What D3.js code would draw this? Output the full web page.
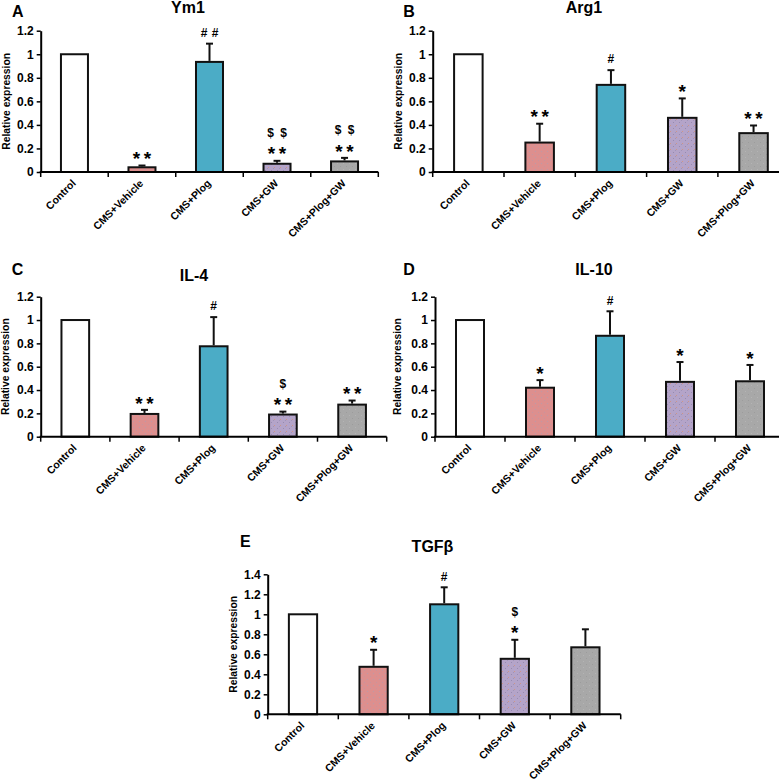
<!DOCTYPE html>
<html><head><meta charset="utf-8">
<script src="https://cdn.jsdelivr.net/npm/d3@7"></script>
<style>
body{margin:0;background:#fff}
svg{display:block}
text{font-family:"Liberation Sans",Arial,sans-serif;fill:#000}
</style>
</head><body>
<svg id="chart" width="779" height="784"></svg>
<script>
// ---------- data ----------
const categories = ["Control", "CMS+Vehicle", "CMS+Plog", "CMS+GW", "CMS+Plog+GW"];
const yTicks12 = [0, 0.2, 0.4, 0.6, 0.8, 1, 1.2];
const yTicks14 = [0, 0.2, 0.4, 0.6, 0.8, 1, 1.2, 1.4];

const ym1Values = [1, 0.04, 0.935, 0.07, 0.09];
const ym1Errors = [0, 0.015, 0.155, 0.025, 0.03];
const ym1Marks  = [[], ["* *"], ["# #"], ["* *", "$ $"], ["* *", "$ $"]];

const arg1Values = [1, 0.25, 0.74, 0.46, 0.33];
const arg1Errors = [0, 0.16, 0.125, 0.165, 0.065];
const arg1Marks  = [[], ["* *"], ["#"], ["*"], ["* *"]];

const il4Values = [1, 0.195, 0.775, 0.19, 0.275];
const il4Errors = [0, 0.035, 0.25, 0.025, 0.035];
const il4Marks  = [[], ["* *"], ["#"], ["* *", "$"], ["* *"]];

const il10Values = [1, 0.42, 0.865, 0.47, 0.475];
const il10Errors = [0, 0.065, 0.21, 0.17, 0.14];
const il10Marks  = [[], ["*"], ["#"], ["*"], ["*"]];

const tgfbValues = [1, 0.475, 1.10, 0.555, 0.67];
const tgfbErrors = [0, 0.17, 0.17, 0.19, 0.18];
const tgfbMarks  = [[], ["*"], ["#"], ["*", "$"], []];

// ---------- layout / style ----------
const barFills = ["#ffffff", "url(#pPink)", "#4bacc6", "url(#pLav)", "url(#pGray)"];

const panels = [
  {letter: "A", title: "Ym1",  values: ym1Values,  errors: ym1Errors,  marks: ym1Marks,  ticks: yTicks12,
   box: {l: 40.7, r: 378.3, t: 30.7, b: 172}, titleXY: [188, 13.3], letterXY: [12, 16.7], yLabelX: 6},
  {letter: "B", title: "Arg1", values: arg1Values, errors: arg1Errors, marks: arg1Marks, ticks: yTicks12,
   box: {l: 432.7, r: 789.2, t: 30.7, b: 172}, titleXY: [584, 13.3], letterXY: [403.3, 16.7], yLabelX: 398.5},
  {letter: "C", title: "IL-4", values: il4Values,  errors: il4Errors,  marks: il4Marks,  ticks: yTicks12,
   box: {l: 40.7, r: 386.7, t: 296.7, b: 436.7}, titleXY: [194, 280.7], letterXY: [11.7, 275], yLabelX: 5.5},
  {letter: "D", title: "IL-10", values: il10Values, errors: il10Errors, marks: il10Marks, ticks: yTicks12,
   box: {l: 435, r: 785, t: 296.7, b: 436.7}, titleXY: [594, 275], letterXY: [403.3, 275], yLabelX: 397.7},
  {letter: "E", title: "TGFβ", values: tgfbValues, errors: tgfbErrors, marks: tgfbMarks, ticks: yTicks14,
   box: {l: 267.7, r: 620.7, t: 574.3, b: 714.3}, titleXY: [432.5, 551.7], letterXY: [240, 546.7], yLabelX: 233.3}
];

const svg = d3.select("#chart");

// textured fills
const defs = svg.append("defs");
function dotPattern(id, base, dots) {
  const p = defs.append("pattern").attr("id", id).attr("patternUnits", "userSpaceOnUse")
    .attr("width", 6).attr("height", 6);
  p.append("rect").attr("width", 6).attr("height", 6).attr("fill", base);
  dots.forEach(d => p.append("rect").attr("x", d[0]).attr("y", d[1]).attr("width", 1).attr("height", 1)
    .attr("fill", d[2]).attr("opacity", 0.6));
}
dotPattern("pPink", "#dd8f8e", [[1, 1, "#a7a1b8"], [4, 4, "#b799a8"]]);
dotPattern("pLav", "#b4a4c9", [[1, 2, "#8479a0"], [4, 5, "#e08a5c"], [3, 0, "#9288ad"]]);
dotPattern("pGray", "#a8a8a8", [[1, 1, "#bcbcbc"], [4, 4, "#959595"]]);

// symbol glyph metrics: baseline shift (fraction of size), size, spacing between pairs
const symStyle = {
  "*": {k: 0.56, size: 19, gap: 11},
  "#": {k: 0.36, size: 12, gap: 11},
  "$": {k: 0.35, size: 12, gap: 13}
};

panels.forEach(P => {
  const g = svg.append("g");
  const B = P.box;
  const ymax = P.ticks[P.ticks.length - 1];
  const x = d3.scaleBand().domain(categories).range([B.l, B.r]).paddingInner(0.6).paddingOuter(0.3);
  const y = d3.scaleLinear().domain([0, ymax]).range([B.b, B.t]);

  // bars
  g.selectAll("rect.bar").data(categories).join("rect").attr("class", "bar")
    .attr("x", d => x(d)).attr("width", x.bandwidth())
    .attr("y", (d, i) => y(P.values[i])).attr("height", (d, i) => y(0) - y(P.values[i]))
    .attr("fill", (d, i) => barFills[i]).attr("stroke", "#111").attr("stroke-width", 2);

  // error bars (upper only)
  categories.forEach((c, i) => {
    const e = P.errors[i];
    if (!e) return;
    const cx = x(c) + x.bandwidth() / 2;
    const top = y(P.values[i] + e);
    g.append("line").attr("x1", cx).attr("x2", cx).attr("y1", y(P.values[i]) - 1).attr("y2", top)
      .attr("stroke", "#111").attr("stroke-width", 2);
    g.append("line").attr("x1", cx - 3.5).attr("x2", cx + 3.5).attr("y1", top).attr("y2", top)
      .attr("stroke", "#111").attr("stroke-width", 2);
    // significance marks
    P.marks[i].forEach((m, k) => {
      const centerY = top - 11 - k * 17;
      const parts = m.split(" ");
      const st = symStyle[parts[0]];
      parts.forEach((s, j) => {
        const dx = (j - (parts.length - 1) / 2) * st.gap;
        g.append("text").attr("x", cx + dx).attr("y", centerY + st.k * st.size)
          .attr("text-anchor", "middle").attr("font-weight", "bold")
          .attr("font-size", st.size).attr("fill", "#000").text(s);
      });
    });
  });

  // y axis
  const ya = g.append("g").attr("transform", `translate(${B.l},0)`)
    .call(d3.axisLeft(y).tickValues(P.ticks).tickFormat(d => d3.format("~g")(d))
      .tickSize(4).tickSizeOuter(0).tickPadding(3));
  ya.select(".domain").attr("stroke", "#000").attr("stroke-width", 2);
  ya.selectAll(".tick line").attr("stroke", "#000").attr("stroke-width", 1.5);
  ya.selectAll(".tick text").attr("font-size", 12).attr("font-weight", "bold")
    .attr("font-family", "Liberation Sans, Arial, sans-serif").attr("fill", "#000");

  // x axis: baseline with ticks at category boundaries
  g.append("line").attr("x1", B.l - 1).attr("x2", B.r).attr("y1", y(0)).attr("y2", y(0))
    .attr("stroke", "#000").attr("stroke-width", 2);
  d3.range(categories.length + 1).forEach(i => {
    const tx = B.l + i * x.step();
    g.append("line").attr("x1", tx).attr("x2", tx).attr("y1", y(0)).attr("y2", y(0) + 5)
      .attr("stroke", "#000").attr("stroke-width", 1.5);
  });
  categories.forEach(c => {
    const cx = x(c) + x.bandwidth() / 2;
    g.append("text").attr("text-anchor", "end").attr("font-size", 10.5).attr("font-weight", "bold")
      .attr("transform", `translate(${cx + 2},${y(0) + 12}) rotate(-45)`).text(c);
  });

  // y label
  g.append("text").attr("transform", `translate(${P.yLabelX},${(B.t + B.b) / 2}) rotate(-90)`)
    .attr("text-anchor", "middle").attr("dominant-baseline", "central")
    .attr("font-size", 10.3).attr("font-weight", "bold").text("Relative expression");

  // title and panel letter
  g.append("text").attr("x", P.titleXY[0]).attr("y", P.titleXY[1]).attr("text-anchor", "middle")
    .attr("font-size", 16).attr("font-weight", "bold").text(P.title);
  g.append("text").attr("x", P.letterXY[0]).attr("y", P.letterXY[1])
    .attr("font-size", 16).attr("font-weight", "bold").text(P.letter);
});
</script>
</body></html>
